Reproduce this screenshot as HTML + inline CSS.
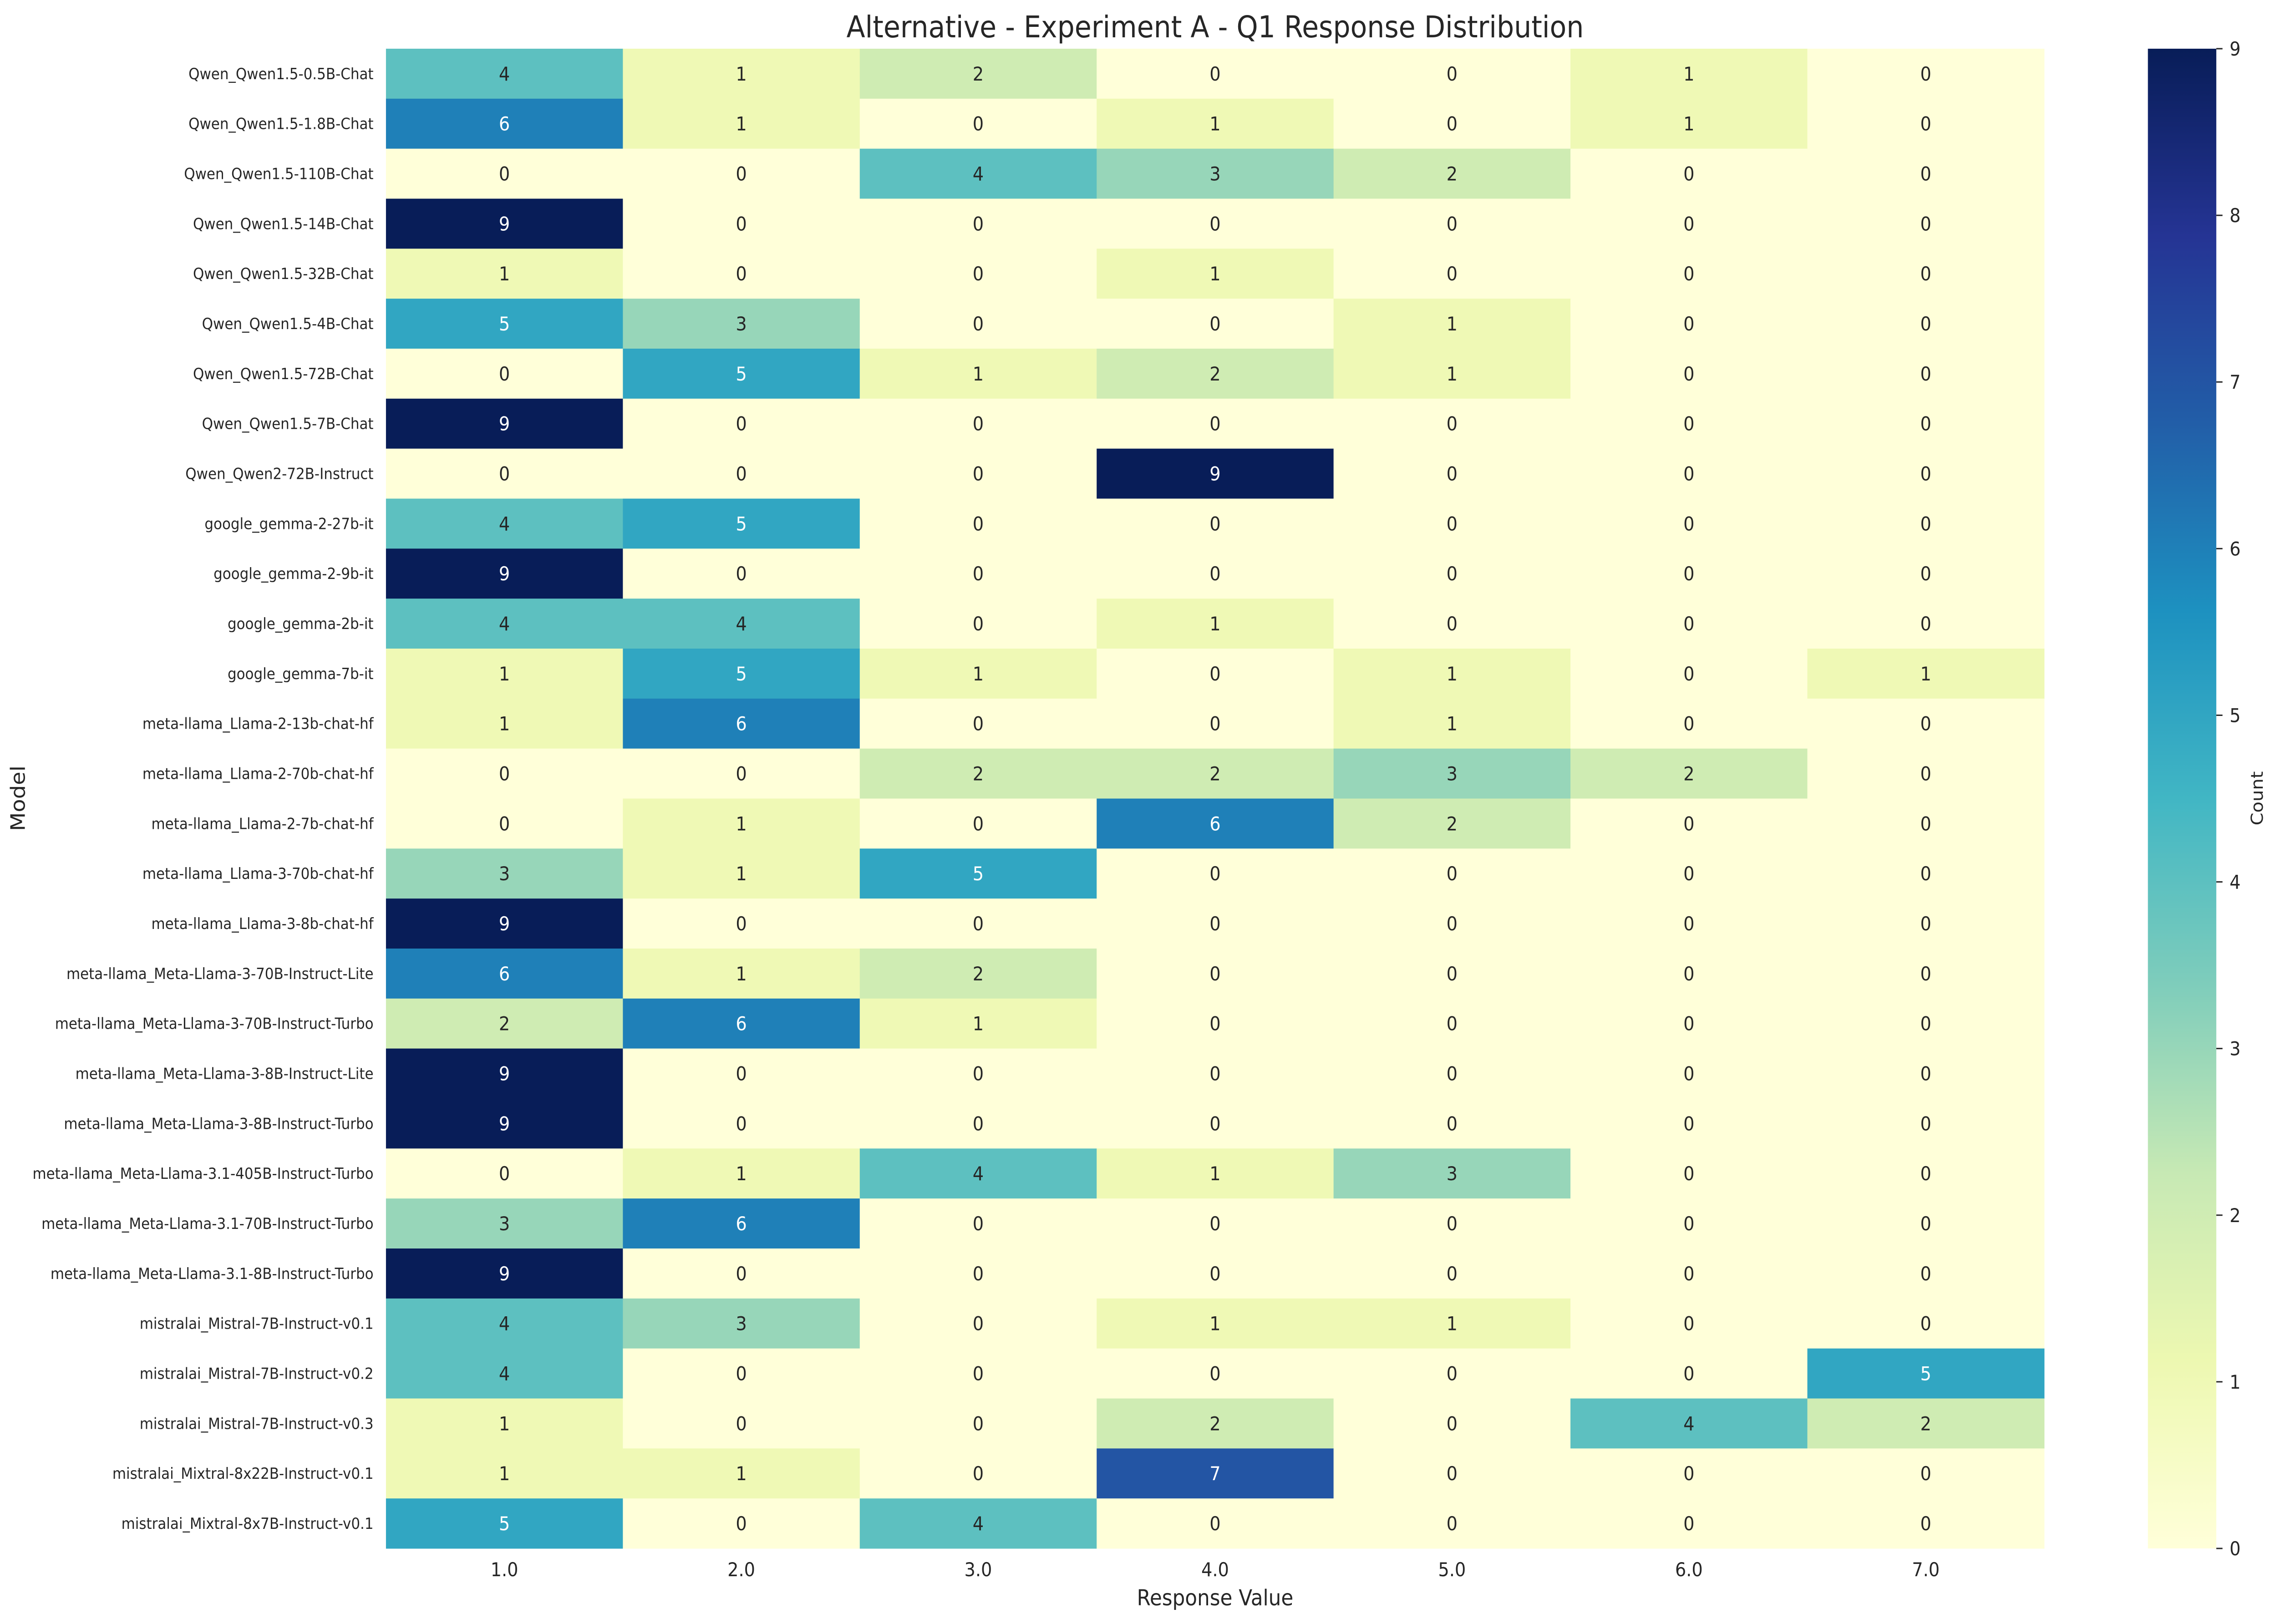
<!DOCTYPE html>
<html><head><meta charset="utf-8"><style>
html,body{margin:0;padding:0;background:#fff;width:100vw;height:100vh;overflow:hidden;}
svg{display:block;width:100vw;height:100vh;}
svg text{font-family:"DejaVu Sans","Liberation Sans",sans-serif;fill:#262626;}
</style></head><body>
<svg id="chart" viewBox="0 0 5490 3568" preserveAspectRatio="none" xmlns="http://www.w3.org/2000/svg">
<defs><linearGradient id="cbgrad" x1="0" y1="1" x2="0" y2="0"></linearGradient></defs>
<text x="2931" y="82" font-size="66" text-anchor="middle">Alternative - Experiment A - Q1 Response Distribution</text>
<g id="cells"></g>
<g id="yticks"></g>
<g id="xticks"></g>
<text x="2931" y="3527" font-size="48" text-anchor="middle">Response Value</text>
<text x="0" y="0" font-size="48" text-anchor="middle" transform="translate(60,1754) rotate(-90)">Model</text>
<rect x="5181" y="107" width="165" height="3295" fill="url(#cbgrad)"></rect>
<g id="cbticks"></g>
<text x="0" y="0" font-size="40" text-anchor="middle" transform="translate(5458,1754) rotate(-90)">Count</text>
</svg>
<script>
const models = ["Qwen_Qwen1.5-0.5B-Chat","Qwen_Qwen1.5-1.8B-Chat","Qwen_Qwen1.5-110B-Chat","Qwen_Qwen1.5-14B-Chat","Qwen_Qwen1.5-32B-Chat","Qwen_Qwen1.5-4B-Chat","Qwen_Qwen1.5-72B-Chat","Qwen_Qwen1.5-7B-Chat","Qwen_Qwen2-72B-Instruct","google_gemma-2-27b-it","google_gemma-2-9b-it","google_gemma-2b-it","google_gemma-7b-it","meta-llama_Llama-2-13b-chat-hf","meta-llama_Llama-2-70b-chat-hf","meta-llama_Llama-2-7b-chat-hf","meta-llama_Llama-3-70b-chat-hf","meta-llama_Llama-3-8b-chat-hf","meta-llama_Meta-Llama-3-70B-Instruct-Lite","meta-llama_Meta-Llama-3-70B-Instruct-Turbo","meta-llama_Meta-Llama-3-8B-Instruct-Lite","meta-llama_Meta-Llama-3-8B-Instruct-Turbo","meta-llama_Meta-Llama-3.1-405B-Instruct-Turbo","meta-llama_Meta-Llama-3.1-70B-Instruct-Turbo","meta-llama_Meta-Llama-3.1-8B-Instruct-Turbo","mistralai_Mistral-7B-Instruct-v0.1","mistralai_Mistral-7B-Instruct-v0.2","mistralai_Mistral-7B-Instruct-v0.3","mistralai_Mixtral-8x22B-Instruct-v0.1","mistralai_Mixtral-8x7B-Instruct-v0.1"];
const responseValues = ["1.0","2.0","3.0","4.0","5.0","6.0","7.0"];
const counts = [
[4,1,2,0,0,1,0],[6,1,0,1,0,1,0],[0,0,4,3,2,0,0],[9,0,0,0,0,0,0],[1,0,0,1,0,0,0],
[5,3,0,0,1,0,0],[0,5,1,2,1,0,0],[9,0,0,0,0,0,0],[0,0,0,9,0,0,0],[4,5,0,0,0,0,0],
[9,0,0,0,0,0,0],[4,4,0,1,0,0,0],[1,5,1,0,1,0,1],[1,6,0,0,1,0,0],[0,0,2,2,3,2,0],
[0,1,0,6,2,0,0],[3,1,5,0,0,0,0],[9,0,0,0,0,0,0],[6,1,2,0,0,0,0],[2,6,1,0,0,0,0],
[9,0,0,0,0,0,0],[9,0,0,0,0,0,0],[0,1,4,1,3,0,0],[3,6,0,0,0,0,0],[9,0,0,0,0,0,0],
[4,3,0,1,1,0,0],[4,0,0,0,0,0,5],[1,0,0,2,0,4,2],[1,1,0,7,0,0,0],[5,0,4,0,0,0,0]];
const cbTicks = [0,1,2,3,4,5,6,7,8,9];
const vmin = 0, vmax = 9;

const NS = "http://www.w3.org/2000/svg";
const L = 931, R = 4931, T = 107, B = 3402;
const cw = (R - L) / responseValues.length, rh = (B - T) / models.length;
const xOf = i => L + i * cw;
const yOf = j => T + j * rh;
const cbY = v => B - (v - vmin) / (vmax - vmin) * (B - T);
const anchors = ["#ffffd9","#edf8b1","#c7e9b4","#7fcdbb","#41b6c4","#1d91c0","#225ea8","#253494","#081d58"];
function hex(h){return [1,3,5].map(k=>parseInt(h.substr(k,2),16));}
function cmap(v){
  let t = Math.max(0, Math.min(1, (v - vmin) / (vmax - vmin))) * 8;
  let i = Math.min(7, Math.floor(t)), f = t - i;
  const a = hex(anchors[i]), b = hex(anchors[i+1]);
  return "rgb(" + a.map((c,k)=>Math.round(c + (b[k]-c)*f)).join(",") + ")";
}
function mk(tag, attrs, parent){const e=document.createElementNS(NS,tag);for(const k in attrs)e.setAttribute(k,attrs[k]);parent.appendChild(e);return e;}

const cells = document.getElementById("cells");
counts.forEach((row, j) => {
  row.forEach((v, i) => {
    const r = mk("rect", {x:xOf(i), y:yOf(j), width:cw+0.5, height:rh+0.5, fill:cmap(v)}, cells);
    
    
    const t = mk("text", {x:xOf(i)+cw/2, y:yOf(j)+rh/2+15, "font-size":42, "text-anchor":"middle"}, cells);
    t.textContent = v;
    if (v >= 5) t.style.fill = "#ffffff";
    
    
  });
});
const yt = document.getElementById("yticks");
models.forEach((m, j) => {
  const t = mk("text", {x:901, y:yOf(j)+rh/2+12, "font-size":34, "text-anchor":"end"}, yt);
  t.textContent = m;
  
  
});
const xt = document.getElementById("xticks");
responseValues.forEach((s, i) => {
  const t = mk("text", {x:xOf(i)+cw/2, y:3463, "font-size":42, "text-anchor":"middle"}, xt);
  t.textContent = s;
  
  
});
const grad = document.getElementById("cbgrad");
for (let k = 0; k <= 8; k++) mk("stop", {offset:(k/8*100)+"%", "stop-color":anchors[k]}, grad);
const cbt = document.getElementById("cbticks");
cbTicks.forEach(v => {
  const y = cbY(v);
  const l = mk("line", {x1:5346, x2:5361, y1:y, y2:y, stroke:"#262626", "stroke-width":3}, cbt);
  
  
  const t = mk("text", {x:5378, y:y+15, "font-size":42}, cbt);
  t.textContent = v;
  
  
});
</script>
</body></html>
